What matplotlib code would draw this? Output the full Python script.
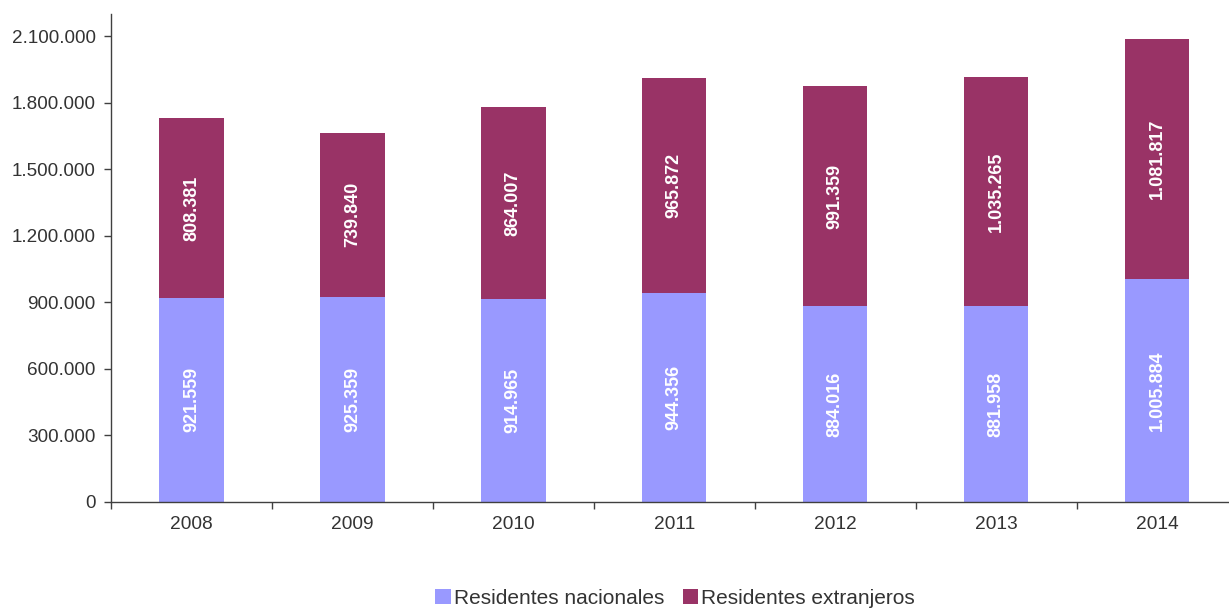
import matplotlib
matplotlib.use("Agg")
import matplotlib.pyplot as plt
from matplotlib.ticker import FuncFormatter
from matplotlib.patches import Patch
import numpy as np

years = ["2008", "2009", "2010", "2011", "2012", "2013", "2014"]
nacionales = [921559, 925359, 914965, 944356, 884016, 881958, 1005884]
extranjeros = [808381, 739840, 864007, 965872, 991359, 1035265, 1081817]
series_names = ["Residentes nacionales", "Residentes extranjeros"]
colors = ["#9999FF", "#993366"]
yticks = [0, 300000, 600000, 900000, 1200000, 1500000, 1800000, 2100000]

plt.rcParams['font.family'] = ['Liberation Sans', 'DejaVu Sans']

fig = plt.figure(figsize=(12.29, 6.10), dpi=100)
ax = fig.add_axes([111/1229, 1-502/610, (1237.5-111)/1229, (502-14)/610])

x = np.arange(len(years))
w = 0.40
ax.bar(x, nacionales, w, color=colors[0], edgecolor='none', zorder=2)
ax.bar(x, extranjeros, w, bottom=nacionales, color=colors[1], edgecolor='none', zorder=2)

def fmt(v):
    return f"{int(v):,}".replace(",", ".")

for xi, n, e in zip(x, nacionales, extranjeros):
    ax.text(xi, n/2, fmt(n), rotation=90, ha='center', va='center',
            color='white', fontsize=13, fontweight='bold', zorder=3)
    ax.text(xi, n + e/2, fmt(e), rotation=90, ha='center', va='center',
            color='white', fontsize=13, fontweight='bold', zorder=3)

ax.set_xlim(-0.5, len(years)-0.5)
ax.set_ylim(0, 2200000)
ax.set_yticks(yticks)
ax.yaxis.set_major_formatter(FuncFormatter(lambda v, p: fmt(v)))
ax.set_xticks(np.arange(-0.5, len(years), 1.0))
ax.set_xticklabels([])
ax.set_xticks(x, minor=True)
ax.set_xticklabels(years, minor=True)
ax.tick_params(axis='x', which='minor', length=0, pad=10, labelsize=13.8, labelcolor='#333333')
ax.tick_params(axis='x', which='major', length=5, color='#404040', width=1)
ax.tick_params(axis='y', length=5, color='#404040', width=1, labelsize=13.6, labelcolor='#333333', pad=6)

for s in ['top', 'right']:
    ax.spines[s].set_visible(False)
for s in ['left', 'bottom']:
    ax.spines[s].set_color('#404040')
    ax.spines[s].set_linewidth(1)

handles = [Patch(facecolor=c, edgecolor='none') for c in colors]
fig.legend(handles, series_names, loc='center', bbox_to_anchor=(675/1229, 1-598/610),
           ncol=2, frameon=False, fontsize=15, handlelength=0.75, handleheight=0.75,
           handletextpad=0.12, columnspacing=0.9, labelcolor='#333333')

fig.savefig("out.png", dpi=100)
